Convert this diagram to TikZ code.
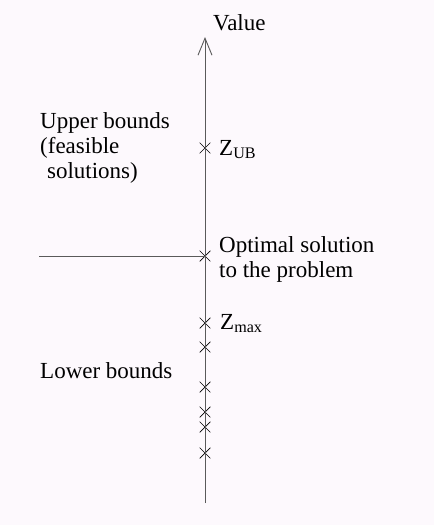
\documentclass[tikz,border=0pt]{standalone}
\usepackage{fontspec}
\setmainfont{Liberation Serif}
\usepackage{tikz}
\usetikzlibrary{arrows.meta, positioning, shapes.misc}
\definecolor{paper}{RGB}{253,249,253}
\definecolor{axisgray}{RGB}{90,90,90}

\begin{document}
\begin{tikzpicture}[
    x=1pt, y=-1pt,
    axis/.style={draw=axisgray, line width=0.9pt}, % Value axis
    crossmark/.style={cross out, draw=black, line width=0.7pt, minimum size=10pt, inner sep=0pt},
    textnode/.style={font=\rmfamily\fontsize{23}{25}\selectfont, inner sep=0pt, align=left}
]
    % Background and size
    \fill[paper] (0,0) rectangle (434,525);
    \useasboundingbox (0,0) rectangle (434,525);

    % Axis ends
    \coordinate (bot) at (205,503);
    \coordinate (top) at (205,37);
    \coordinate (lft) at (39,256);

    % Crosses on the axis
    \node (ub)   [crossmark] at (205,148) {};
    \node (opt)  [crossmark] at (205,256) {};
    \node (zmax) [crossmark] at (205,323) {};
    \node (lb1)  [crossmark] at (205,347) {};
    \node (lb2)  [crossmark] at (205,387) {};
    \node (lb3)  [crossmark] at (205,412) {};
    \node (lb4)  [crossmark] at (205,427) {};
    \node (lb5)  [crossmark] at (205,453) {};

    % Axis and optimum line
    \draw[axis, -{Straight Barb[length=17pt, width=14pt]}] (bot) -- (top);
    \draw[axis] (lft) -- (opt.center);

    % Labels (multi-line nodes sit on their last baseline)
    \node (val) [textnode, anchor=base west] at (213,30) {Value};
    \node (ubt) [textnode, anchor=base west] at (40,178)
        {Upper bounds\\(feasible\\\hspace{0.3em}solutions)};
    \node (zub) [textnode, anchor=base west] at (219,155) {Z\textsubscript{UB}};
    \node (optt) [textnode, anchor=base west] at (219,277)
        {Optimal solution\\to the problem};
    \node (zmt) [textnode, anchor=base west] at (220,329) {Z\textsubscript{max}};
    \node (lbt) [textnode, anchor=base west] at (40,378) {Lower bounds};

\end{tikzpicture}
\end{document}
